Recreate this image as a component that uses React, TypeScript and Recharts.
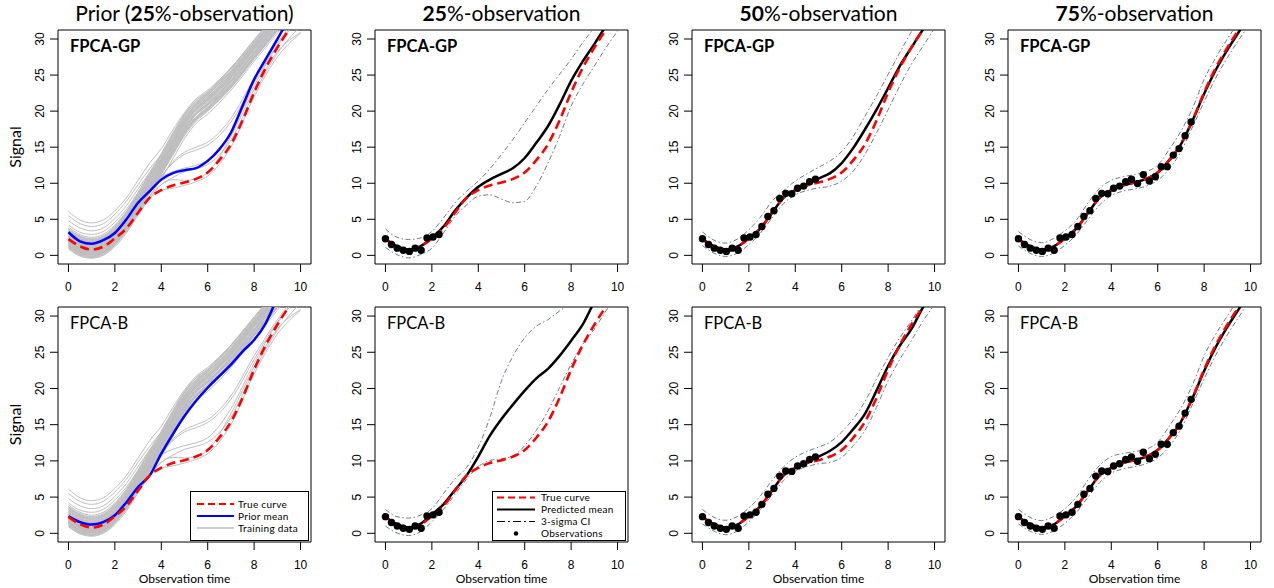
import React from 'react';
import { ComposedChart, Line, Scatter, XAxis, YAxis, ReferenceArea } from 'recharts';

// ---------- data ----------
const xTicks = [0, 2, 4, 6, 8, 10];
const yTicks = [0, 5, 10, 15, 20, 25, 30];

const knots = [0, 0.5, 1, 1.5, 2, 2.5, 3, 3.5, 4, 4.5, 5, 5.5, 6, 6.5, 7, 7.5, 8, 8.5, 9, 9.5, 10];
const trainKnots = [0, 0.5, 1, 1.5, 2, 2.5, 3, 3.5, 4, 4.5, 5, 5.5, 6, 7, 8, 9, 10];

const trueCurve = [2.25, 1.25, 0.8, 1.2, 2.35, 3.75, 5.9, 8.0, 9.05, 9.7, 10.1, 10.6, 11.5, 13.2, 15.4, 18.7, 22.6, 26.0, 28.8, 31.3, 33.6];

const priorMeanGP = [3.2, 1.95, 1.6, 2.1, 3.1, 5.0, 7.3, 8.9, 10.5, 11.4, 11.8, 12.1, 13.1, 14.7, 17.0, 20.7, 24.4, 27.2, 30.0, 32.8, 35.5];
const priorMeanB = [2.35, 1.55, 1.2, 1.55, 2.5, 4.3, 6.4, 8.0, 11.0, 13.7, 16.2, 18.3, 20.1, 21.7, 23.3, 25.1, 26.7, 29.0, 32.5, 35.5, 38.5];

const obsTime = [0, 0.26, 0.51, 0.77, 1.03, 1.28, 1.54, 1.79, 2.05, 2.31, 2.56, 2.82, 3.08, 3.33, 3.59, 3.85, 4.10, 4.36, 4.62, 4.87, 5.13, 5.38, 5.64, 5.90, 6.15, 6.41, 6.67, 6.92, 7.18, 7.44];
const obsSignal = [2.3, 1.5, 1.0, 0.7, 0.55, 1.0, 0.7, 2.4, 2.55, 2.9, 4.0, 5.4, 6.2, 7.9, 8.6, 8.55, 9.3, 9.6, 10.2, 10.55, 9.95, 11.2, 10.3, 10.9, 12.3, 12.3, 13.9, 14.8, 16.6, 18.5];

// FPCA-GP predictions
const gp25Mean = [2.3, 1.25, 0.8, 1.25, 2.4, 4.0, 6.2, 8.0, 9.5, 10.5, 11.3, 12.1, 13.5, 15.6, 17.9, 20.9, 24.2, 26.9, 29.3, 31.8, 34.0];
const gp25Upper = [3.65, 2.5, 2.2, 2.4, 3.3, 5.2, 7.3, 8.9, 10.3, 12.0, 14.0, 16.1, 18.4, 20.7, 23.0, 25.1, 27.2, 29.5, 31.6, 33.8, 36.0];
const gp25Lower = [1.1, 0.1, -0.35, 0.1, 1.0, 3.1, 5.4, 7.0, 8.2, 8.4, 7.8, 7.3, 7.5, 9.6, 12.8, 16.5, 20.7, 23.7, 26.25, 28.8, 31.1];

const gp50Mean = [2.25, 1.25, 0.8, 1.2, 2.35, 3.75, 5.9, 8.0, 9.05, 9.9, 10.65, 11.4, 12.8, 14.9, 17.45, 20.2, 23.2, 26.25, 28.8, 31.3, 33.6];
const gp50Upper = [3.25, 2.1, 1.7, 2.25, 3.55, 5.3, 7.5, 9.0, 10.3, 11.3, 12.2, 13.1, 14.4, 16.5, 19.3, 22.1, 25.1, 28.1, 31.0, 33.5, 36.0];
const gp50Lower = [1.35, 0.3, -0.15, 0.3, 1.5, 3.1, 5.2, 7.2, 8.4, 9.0, 9.35, 9.6, 10.3, 11.7, 14.0, 17.0, 20.2, 23.5, 26.5, 29.0, 31.5];

const gp75Mean = [2.25, 1.25, 0.8, 1.2, 2.35, 3.75, 5.9, 8.0, 9.05, 9.7, 10.1, 10.6, 11.5, 13.2, 15.4, 18.7, 22.4, 25.7, 28.5, 31.0, 33.4];
const gp75Upper = [3.3, 2.2, 1.75, 2.3, 3.4, 4.9, 7.3, 9.3, 10.4, 10.9, 11.2, 11.6, 12.5, 14.7, 17.2, 20.4, 24.4, 27.4, 30.0, 32.5, 35.0];
const gp75Lower = [1.3, 0.3, -0.15, 0.3, 1.4, 2.9, 5.0, 7.0, 8.3, 8.9, 9.2, 9.6, 10.4, 12.0, 14.4, 17.8, 21.3, 24.6, 27.4, 29.9, 32.2];

// FPCA-B predictions
const b25Mean = [2.25, 1.25, 0.8, 1.3, 2.6, 4.0, 6.0, 8.0, 10.6, 13.5, 15.8, 17.8, 19.7, 21.4, 22.7, 24.5, 26.6, 28.85, 32.0, 35.0, 38.0];
const b25Upper = [3.3, 2.3, 2.1, 2.5, 3.4, 5.5, 7.5, 9.1, 11.9, 16.0, 21.05, 24.5, 27.0, 28.6, 29.5, 30.7, 31.8, 33.0, 34.0, 35.0, 36.0];
const b25Lower = [1.0, 0.05, -0.3, 0.2, 1.6, 3.3, 5.4, 7.5, 9.2, 10.05, 10.3, 10.7, 12.1, 14.2, 16.9, 20.1, 23.35, 26.1, 28.2, 30.7, 33.0];

const b50Mean = [2.25, 1.25, 0.8, 1.2, 2.35, 3.75, 5.9, 8.0, 9.05, 9.9, 10.6, 11.4, 12.6, 14.4, 16.5, 19.7, 23.1, 25.9, 28.2, 31.2, 33.8];
const b50Upper = [3.3, 2.2, 1.8, 2.3, 3.5, 5.2, 7.3, 9.2, 10.5, 11.3, 11.9, 12.6, 14.0, 15.8, 18.2, 21.3, 24.3, 27.0, 29.3, 31.8, 34.0];
const b50Lower = [1.3, 0.3, -0.2, 0.3, 1.6, 3.3, 5.3, 7.3, 8.6, 9.2, 9.6, 9.8, 10.5, 12.1, 14.2, 17.4, 21.05, 24.0, 26.6, 29.3, 31.6];

const b75Mean = [2.25, 1.25, 0.8, 1.2, 2.35, 3.75, 5.9, 8.0, 9.05, 9.7, 10.1, 10.6, 11.5, 13.2, 15.4, 18.7, 22.4, 25.7, 28.5, 31.0, 33.4];
const b75Upper = [3.3, 2.2, 1.75, 2.3, 3.4, 5.0, 7.4, 9.4, 10.6, 11.0, 11.3, 11.6, 12.6, 14.8, 17.3, 20.5, 24.5, 27.5, 30.0, 32.5, 35.0];
const b75Lower = [1.3, 0.3, -0.15, 0.3, 1.4, 2.9, 5.0, 7.0, 8.3, 8.9, 9.2, 9.6, 10.4, 12.0, 14.4, 17.8, 21.3, 24.6, 27.4, 29.9, 32.2];

// training curves (values at trainKnots)
const trainingCurves: number[][] = [
  [0.9, -0.1, -0.4, 0.0, 1.2, 3.1, 5.6, 8.2, 10.6, 13.4, 16.2, 18.3, 19.6, 22.9, 26.9, 30.8, 34.5],
  [1.1, 0.1, -0.2, 0.2, 1.5, 3.5, 6.1, 8.8, 11.4, 14.2, 16.9, 18.9, 20.2, 23.4, 27.3, 31.2, 35.0],
  [1.2, 0.2, -0.1, 0.4, 1.7, 3.8, 6.5, 9.3, 12.0, 14.8, 17.5, 19.5, 20.8, 24.0, 27.9, 31.8, 35.5],
  [1.4, 0.4, 0.1, 0.5, 1.8, 3.7, 6.2, 8.8, 11.2, 13.9, 16.6, 18.6, 20.0, 23.2, 27.2, 31.1, 34.8],
  [1.5, 0.5, 0.2, 0.6, 1.9, 3.9, 6.6, 9.4, 12.1, 15.0, 17.7, 19.8, 21.1, 24.3, 28.2, 32.0, 35.8],
  [1.7, 0.7, 0.3, 0.8, 2.1, 4.1, 6.7, 9.3, 11.8, 14.5, 17.2, 19.2, 20.5, 23.7, 27.6, 31.5, 35.2],
  [1.8, 0.8, 0.5, 0.9, 2.2, 4.2, 6.9, 9.7, 12.4, 15.3, 18.1, 20.1, 21.4, 24.6, 28.5, 32.3, 36.0],
  [2.0, 1.0, 0.6, 1.0, 2.3, 4.2, 6.7, 9.2, 11.6, 14.2, 16.8, 18.8, 20.1, 23.3, 27.3, 31.2, 35.0],
  [2.1, 1.1, 0.8, 1.2, 2.5, 4.5, 7.2, 10.0, 12.7, 15.6, 18.4, 20.4, 21.7, 24.9, 28.8, 32.6, 36.3],
  [2.3, 1.3, 0.9, 1.3, 2.6, 4.5, 7.0, 9.6, 12.1, 14.8, 17.5, 19.5, 20.8, 24.0, 27.9, 31.8, 35.5],
  [2.4, 1.4, 1.1, 1.5, 2.8, 4.8, 7.5, 10.3, 13.0, 15.9, 18.7, 20.7, 22.0, 25.2, 29.1, 32.9, 36.6],
  [2.6, 1.6, 1.2, 1.6, 2.9, 4.8, 7.3, 9.8, 12.3, 15.0, 17.6, 19.6, 20.9, 24.1, 28.0, 31.9, 35.6],
  [2.7, 1.7, 1.4, 1.8, 3.1, 5.1, 7.8, 10.6, 13.3, 16.2, 19.0, 21.0, 22.3, 25.5, 29.4, 33.2, 36.9],
  [2.9, 1.9, 1.5, 1.9, 3.2, 5.1, 7.6, 10.1, 12.5, 15.1, 17.7, 19.7, 21.0, 24.2, 28.1, 32.0, 35.7],
  [3.0, 2.0, 1.7, 2.1, 3.4, 5.4, 8.1, 10.9, 13.6, 16.5, 19.3, 21.2, 22.5, 25.8, 29.6, 33.4, 37.0],
  [3.2, 2.2, 1.8, 2.2, 3.5, 5.4, 7.9, 10.4, 12.8, 15.4, 18.0, 20.0, 21.3, 24.5, 28.4, 32.2, 35.9],
  [3.3, 2.3, 2.0, 2.4, 3.7, 5.7, 8.4, 11.2, 13.9, 16.8, 19.5, 21.4, 22.6, 25.9, 29.8, 33.6, 37.2],
  [3.5, 2.5, 2.1, 2.5, 3.8, 5.7, 8.2, 10.7, 13.1, 15.7, 18.3, 20.3, 21.6, 24.8, 28.7, 32.5, 36.2],
  [3.7, 2.7, 2.3, 2.7, 4.0, 6.0, 8.7, 11.5, 14.1, 17.0, 19.6, 21.5, 22.7, 26.0, 29.9, 33.7, 37.3],
  [3.9, 2.9, 2.5, 2.9, 4.2, 6.1, 8.6, 11.1, 13.5, 16.1, 18.7, 20.7, 22.0, 25.2, 29.1, 32.9, 36.6],
  [1.0, 0.0, -0.3, 0.1, 1.4, 3.4, 6.0, 8.7, 11.3, 14.1, 16.9, 19.0, 20.4, 23.6, 27.6, 31.5, 35.2],
  [1.6, 0.6, 0.2, 0.6, 1.9, 3.8, 6.4, 9.1, 11.7, 14.6, 17.4, 19.5, 20.9, 24.1, 28.0, 31.9, 35.6],
  [2.2, 1.2, 0.8, 1.2, 2.4, 4.3, 6.8, 9.4, 11.9, 14.7, 17.5, 19.6, 21.0, 24.2, 28.1, 32.0, 35.7],
  [2.8, 1.8, 1.4, 1.8, 3.0, 4.9, 7.4, 10.0, 12.6, 15.5, 18.3, 20.3, 21.6, 24.8, 28.7, 32.5, 36.2],
  [1.3, 0.3, 0.0, 0.4, 1.6, 3.6, 6.3, 9.0, 11.6, 14.4, 17.2, 19.2, 20.6, 23.8, 27.7, 31.6, 35.3],
  [1.9, 0.9, 0.5, 0.9, 2.2, 4.1, 6.6, 9.2, 11.7, 14.4, 17.1, 19.1, 20.4, 23.6, 27.5, 31.4, 35.1],
  [2.5, 1.5, 1.1, 1.5, 2.7, 4.6, 7.1, 9.7, 12.2, 15.0, 17.8, 19.8, 21.1, 24.3, 28.2, 32.1, 35.8],
  [3.1, 2.1, 1.6, 2.0, 3.3, 5.3, 8.0, 10.7, 13.3, 16.1, 18.9, 20.9, 22.2, 25.4, 29.3, 33.1, 36.8],
  [3.6, 2.6, 2.2, 2.6, 3.9, 5.9, 8.5, 11.2, 13.8, 16.6, 19.3, 21.2, 22.4, 25.6, 29.5, 33.3, 37.0],
  [2.0, 1.0, 0.7, 1.1, 2.4, 4.4, 7.1, 9.9, 12.6, 15.4, 18.2, 20.2, 21.5, 24.7, 28.6, 32.4, 36.1],
  [1.2, 0.2, -0.2, 0.3, 1.6, 3.6, 6.2, 8.9, 11.5, 14.3, 17.0, 19.0, 20.3, 23.5, 27.4, 31.3, 35.0],
  [2.6, 1.6, 1.3, 1.7, 3.0, 5.0, 7.7, 10.4, 13.0, 15.8, 18.5, 20.5, 21.8, 25.0, 28.9, 32.7, 36.4],
  [1.7, 0.7, 0.4, 0.8, 2.0, 3.9, 6.4, 9.0, 11.5, 14.2, 16.9, 18.9, 20.2, 23.4, 27.3, 31.2, 34.9],
  [3.4, 2.4, 1.9, 2.3, 3.6, 5.5, 8.0, 10.6, 13.0, 15.7, 18.4, 20.4, 21.7, 24.9, 28.8, 32.6, 36.3],
  [6.1, 4.9, 4.5, 4.9, 6.2, 8.0, 10.4, 12.8, 14.8, 17.4, 19.8, 21.7, 22.9, 26.0, 29.8, 33.5, 37.0],
  [5.5, 4.4, 4.0, 4.4, 5.7, 7.5, 9.8, 12.0, 14.0, 16.6, 19.0, 21.0, 22.3, 25.4, 29.2, 33.0, 36.5],
  [4.8, 3.8, 3.4, 3.8, 5.1, 6.9, 9.2, 11.5, 13.5, 16.2, 18.8, 20.8, 22.0, 25.2, 29.0, 32.8, 36.2],
  [4.2, 3.2, 2.9, 3.3, 4.6, 6.4, 8.7, 11.0, 13.1, 15.8, 18.4, 20.5, 21.8, 25.0, 28.8, 32.5, 36.0],
  [1.8, 0.8, 0.4, 0.8, 2.0, 3.8, 6.2, 8.6, 10.9, 13.0, 14.3, 15.0, 15.7, 19.0, 24.5, 29.5, 33.5],
  [2.2, 1.2, 0.8, 1.2, 2.4, 4.1, 6.4, 8.8, 11.0, 12.8, 14.0, 14.6, 15.3, 18.5, 24.0, 29.2, 33.0],
  [2.4, 1.4, 1.0, 1.4, 2.5, 4.2, 6.5, 8.9, 10.8, 11.6, 12.1, 12.5, 13.2, 17.2, 23.5, 29.0, 33.0],
  [1.4, 0.4, 0.1, 0.5, 1.6, 3.3, 5.6, 7.9, 9.8, 10.8, 11.6, 12.0, 12.6, 16.0, 22.5, 28.0, 31.8],
  [2.0, 1.0, 0.6, 1.0, 2.1, 3.7, 5.9, 7.9, 9.0, 9.3, 9.7, 10.2, 11.0, 15.0, 22.0, 27.5, 30.8],
  [1.6, 0.6, 0.2, 0.6, 1.8, 3.6, 5.9, 8.2, 9.8, 10.5, 10.4, 10.6, 11.5, 16.5, 23.0, 28.2, 30.9],
];

// ---------- layout / style ----------
const X_DOMAIN: [number, number] = [-0.45, 10.45];
const Y_DOMAIN: [number, number] = [-1.2, 31.25];
const BOX_W = 253;
const ML = 58;
const MT = 6;
const MR = 6;
const XH = 45;
const colLefts = [58, 375, 692, 1008];
const rows = [{ top: 30, h: 234 }, { top: 307, h: 235 }];

const TICK_FONT = '"Liberation Sans", Arial, sans-serif';
const TEXT_FONT = 'Lato, "Open Sans", sans-serif';
const RED = '#FF0000';
const BLUE = '#0000FF';
const GREY = '#BEBEBE';
const CI = '#6C7A8A';
const RED_DASH = '9 5';
const CI_DASH = '5 2.5 1.5 2.5';

type Pt = { x: number; y: number };
const toPts = (xs: number[], ys: number[]): Pt[] => xs.map((x, i) => ({ x, y: ys[i] }));
const obsPts = toPts(obsTime, obsSignal);

const renderYTick = (props: any) => {
  const { x, y, payload } = props;
  return (
    <text
      x={x}
      y={y}
      transform={`rotate(-90 ${x} ${y})`}
      textAnchor="middle"
      dominantBaseline="central"
      fontSize={12}
      fontFamily={TICK_FONT}
      fill="#000"
    >
      {payload.value}
    </text>
  );
};

function lineEl(key: string, data: Pt[], stroke: string, width: number, dash?: string) {
  return (
    <Line
      key={key}
      data={data}
      dataKey="y"
      type="monotone"
      stroke={stroke}
      strokeWidth={width}
      strokeDasharray={dash}
      dot={false}
      activeDot={false}
      isAnimationActive={false}
    />
  );
}

function priorSeries(mean: number[]) {
  const els = trainingCurves.map((c, i) => lineEl('g' + i, toPts(trainKnots, c), GREY, 1));
  els.push(lineEl('mean', toPts(knots, mean), BLUE, 2.5));
  els.push(lineEl('true', toPts(knots, trueCurve), RED, 2.6, RED_DASH));
  return els;
}

function predSeries(mean: number[], upper: number[], lower: number[], nObs: number) {
  return [
    lineEl('up', toPts(knots, upper), CI, 1, CI_DASH),
    lineEl('lo', toPts(knots, lower), CI, 1, CI_DASH),
    lineEl('mean', toPts(knots, mean), '#000', 2.5),
    lineEl('true', toPts(knots, trueCurve), RED, 2.6, RED_DASH),
    <Scatter
      key="obs"
      data={obsPts.slice(0, nObs)}
      dataKey="y"
      fill="#000"
      isAnimationActive={false}
      shape={(p: any) => <circle cx={p.cx} cy={p.cy} r={3.7} fill="#000" />}
    />,
  ];
}

function Panel({ left, top, h, series }: { left: number; top: number; h: number; series: React.ReactNode[] }) {
  return (
    <div style={{ position: 'absolute', left: left - ML, top: top - MT }}>
      <ComposedChart
        width={ML + BOX_W + MR}
        height={MT + h + XH}
        margin={{ top: MT, right: MR, bottom: 0, left: 0 }}
      >
        <XAxis
          type="number"
          dataKey="x"
          domain={X_DOMAIN}
          ticks={xTicks}
          interval={0}
          allowDataOverflow
          axisLine={false}
          tickSize={8}
          tickMargin={10}
          tickLine={{ stroke: '#000' }}
          tick={{ fontSize: 12, fill: '#000', fontFamily: TICK_FONT }}
          height={XH}
        />
        <YAxis
          type="number"
          dataKey="y"
          domain={Y_DOMAIN}
          ticks={yTicks}
          interval={0}
          allowDataOverflow
          axisLine={false}
          tickSize={8}
          tickMargin={10}
          tickLine={{ stroke: '#000' }}
          tick={renderYTick}
          width={ML}
        />
        {series}
        <ReferenceArea
          x1={X_DOMAIN[0]}
          x2={X_DOMAIN[1]}
          y1={Y_DOMAIN[0]}
          y2={Y_DOMAIN[1]}
          fill="none"
          fillOpacity={0}
          stroke="#000"
          strokeWidth={1}
          ifOverflow="visible"
        />
      </ComposedChart>
    </div>
  );
}

const titles = [
  ['Prior (', '25', '%-observation)'],
  ['', '25', '%-observation'],
  ['', '50', '%-observation'],
  ['', '75', '%-observation'],
];
const priorLegendLabels = ['True curve', 'Prior mean', 'Training data'];
const predLegendLabels = ['True curve', 'Predicted mean', '3-sigma CI', 'Observations'];

const LEG_FS = 10;
const LEG_STEP = 12;

export default function App() {
  const top = rows[0];
  const bot = rows[1];
  const pRows = [504, 516, 528];
  const qRows = [497.5, 509.5, 521.5, 533.5];
  return (
    <div style={{ position: 'absolute', left: 0, top: 0, width: 1274, height: 588, background: '#fff', overflow: 'hidden' }}>
      <Panel left={colLefts[0]} top={top.top} h={top.h} series={priorSeries(priorMeanGP)} />
      <Panel left={colLefts[1]} top={top.top} h={top.h} series={predSeries(gp25Mean, gp25Upper, gp25Lower, 10)} />
      <Panel left={colLefts[2]} top={top.top} h={top.h} series={predSeries(gp50Mean, gp50Upper, gp50Lower, 20)} />
      <Panel left={colLefts[3]} top={top.top} h={top.h} series={predSeries(gp75Mean, gp75Upper, gp75Lower, 30)} />
      <Panel left={colLefts[0]} top={bot.top} h={bot.h} series={priorSeries(priorMeanB)} />
      <Panel left={colLefts[1]} top={bot.top} h={bot.h} series={predSeries(b25Mean, b25Upper, b25Lower, 10)} />
      <Panel left={colLefts[2]} top={bot.top} h={bot.h} series={predSeries(b50Mean, b50Upper, b50Lower, 20)} />
      <Panel left={colLefts[3]} top={bot.top} h={bot.h} series={predSeries(b75Mean, b75Upper, b75Lower, 30)} />

      <svg
        width={1274}
        height={588}
        style={{ position: 'absolute', left: 0, top: 0, pointerEvents: 'none' }}
        fontFamily={TEXT_FONT}
      >
        {titles.map((t, i) => (
          <text key={'t' + i} x={colLefts[i] + BOX_W / 2} y={21} textAnchor="middle" fontSize={21} fill="#000">
            <tspan>{t[0]}</tspan>
            <tspan fontWeight="bold">{t[1]}</tspan>
            <tspan>{t[2]}</tspan>
          </text>
        ))}
        {colLefts.map((l, i) => (
          <text key={'gp' + i} x={l + 12} y={top.top + 21.5} fontSize={16.5} fontWeight="bold" fill="#000">FPCA-GP</text>
        ))}
        {colLefts.map((l, i) => (
          <text key={'b' + i} x={l + 12} y={bot.top + 22} fontSize={16.5} fill="#000">FPCA-B</text>
        ))}
        <text transform={`translate(21 ${top.top + top.h / 2}) rotate(-90)`} textAnchor="middle" fontSize={16} fill="#000">Signal</text>
        <text transform={`translate(21 ${bot.top + bot.h / 2}) rotate(-90)`} textAnchor="middle" fontSize={16} fill="#000">Signal</text>
        {colLefts.map((l, i) => (
          <text key={'ot' + i} x={l + BOX_W / 2} y={583.2} textAnchor="middle" fontSize={12} fill="#000">Observation time</text>
        ))}

        {/* legend: prior panel */}
        <rect x={190.5} y={491.5} width={118} height={49} fill="#fff" stroke="#000" strokeWidth={1} />
        <line x1={197} x2={234} y1={pRows[0]} y2={pRows[0]} stroke={RED} strokeWidth={2.2} strokeDasharray="7 4" />
        <line x1={197} x2={234} y1={pRows[1]} y2={pRows[1]} stroke={BLUE} strokeWidth={2.2} />
        <line x1={197} x2={234} y1={pRows[2]} y2={pRows[2]} stroke={GREY} strokeWidth={1.5} />
        {priorLegendLabels.map((s, i) => (
          <text key={s} x={238} y={pRows[i] + 3.6} fontSize={LEG_FS} letterSpacing={0.3} fill="#000">{s}</text>
        ))}

        {/* legend: prediction panel */}
        <rect x={492.5} y={491.5} width={133} height={49} fill="#fff" stroke="#000" strokeWidth={1} />
        <line x1={497} x2={535} y1={qRows[0]} y2={qRows[0]} stroke={RED} strokeWidth={2} strokeDasharray="7 4" />
        <line x1={497} x2={535} y1={qRows[1]} y2={qRows[1]} stroke="#000" strokeWidth={2} />
        <line x1={497} x2={535} y1={qRows[2]} y2={qRows[2]} stroke="#000" strokeWidth={1} strokeDasharray="8 3 2 3" />
        <circle cx={516} cy={qRows[3]} r={2.2} fill="#000" />
        {predLegendLabels.map((s, i) => (
          <text key={s} x={541} y={qRows[i] + 3.6} fontSize={LEG_FS} letterSpacing={0.3} fill="#000">{s}</text>
        ))}
      </svg>
    </div>
  );
}
